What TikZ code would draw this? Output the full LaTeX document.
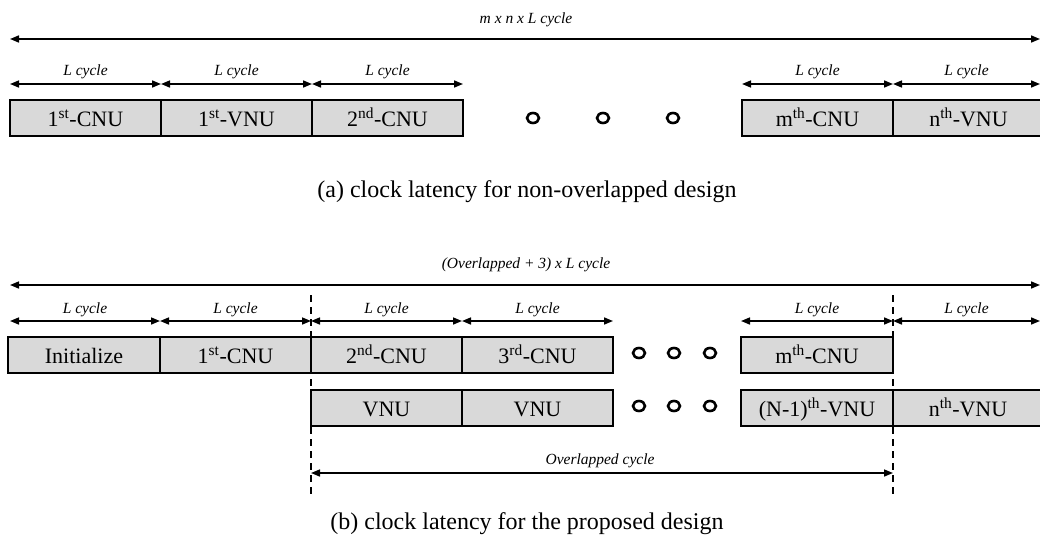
\documentclass[tikz,border=0pt]{standalone}
\usepackage{fontspec}
\setmainfont{Liberation Serif}
\usetikzlibrary{arrows.meta}
\begin{document}
\begin{tikzpicture}[x=1pt,y=-1pt,
  blk/.style={draw, line width=2.4pt, fill=black!15, minimum height=36pt, inner sep=0pt, text height=18pt, text depth=2pt, font=\fontsize{22}{26}\selectfont},
  dim/.style={line width=1.6pt, {Triangle[length=9pt,width=7pt]}-{Triangle[length=9pt,width=7pt]}},
  lab/.style={font=\fontsize{15.5}{18}\selectfont\itshape, inner sep=0pt},
  captxt/.style={font=\fontsize{24}{28}\selectfont, inner sep=0pt},
  dots/.style={line width=2.6pt},
  vdash/.style={line width=2pt, dash pattern=on 7pt off 5pt}
]
\useasboundingbox[fill=white] (0,0) rectangle (1040,538);

% ---------------- (a) ----------------
\node[lab] (ta) at (526,20) {m x n x L cycle};
\coordinate (A0) at (10,39);
\coordinate (A1) at (1040,39);
\draw[dim] (A0) -- (A1);

\coordinate (a0) at (10,84);
\coordinate (a1) at (161,84);
\coordinate (a2) at (312,84);
\coordinate (a3) at (463,84);
\coordinate (a4) at (742,84);
\coordinate (a5) at (893,84);
\coordinate (a6) at (1040,84);
\draw[dim] (a0) -- (a1);
\draw[dim] (a1) -- (a2);
\draw[dim] (a2) -- (a3);
\draw[dim] (a4) -- (a5);
\draw[dim] (a5) -- (a6);
\node[lab] (la1) at (85.5,72) {L cycle};
\node[lab] (la2) at (236.5,72) {L cycle};
\node[lab] (la3) at (387.5,72) {L cycle};
\node[lab] (la4) at (817.5,72) {L cycle};
\node[lab] (la5) at (966.5,72) {L cycle};

\node[blk, minimum width=151pt] (b1) at (85.5,118) {1\textsuperscript{st}-CNU};
\node[blk, minimum width=151pt] (b2) at (236.5,118) {1\textsuperscript{st}-VNU};
\node[blk, minimum width=151pt] (b3) at (387.5,118) {2\textsuperscript{nd}-CNU};
\node[blk, minimum width=151pt] (b4) at (817.5,118) {m\textsuperscript{th}-CNU};
\node[blk, minimum width=151pt] (b5) at (968.5,118) {n\textsuperscript{th}-VNU};

\draw[dots] (533,118) ellipse [x radius=6pt, y radius=5pt];
\draw[dots] (603,118) ellipse [x radius=6pt, y radius=5pt];
\draw[dots] (673,118) ellipse [x radius=6pt, y radius=5pt];

\node[captxt] (capa) at (527,192) {(a) clock latency for non-overlapped design};

% ---------------- (b) ----------------
\node[lab] (tb) at (526,265) {(Overlapped + 3) x L cycle};
\coordinate (B0) at (10,285);
\coordinate (B1) at (1040,285);
\draw[dim] (B0) -- (B1);

\coordinate (c0) at (10,321);
\coordinate (c1) at (160,321);
\coordinate (c2) at (311,321);
\coordinate (c3) at (462,321);
\coordinate (c4) at (613,321);
\coordinate (c5) at (741,321);
\coordinate (c6) at (893,321);
\coordinate (c7) at (1040,321);
\draw[dim] (c0) -- (c1);
\draw[dim] (c1) -- (c2);
\draw[dim] (c2) -- (c3);
\draw[dim] (c3) -- (c4);
\draw[dim] (c5) -- (c6);
\draw[dim] (c6) -- (c7);
\node[lab] (lb1) at (85,310) {L cycle};
\node[lab] (lb2) at (235.5,310) {L cycle};
\node[lab] (lb3) at (386.5,310) {L cycle};
\node[lab] (lb4) at (537.5,310) {L cycle};
\node[lab] (lb5) at (817,310) {L cycle};
\node[lab] (lb6) at (966.5,310) {L cycle};

\node[blk, minimum width=152pt] (r1) at (84,355) {Initialize};
\node[blk, minimum width=151pt] (r2) at (235.5,355) {1\textsuperscript{st}-CNU};
\node[blk, minimum width=151pt] (r3) at (386.5,355) {2\textsuperscript{nd}-CNU};
\node[blk, minimum width=151pt] (r4) at (537.5,355) {3\textsuperscript{rd}-CNU};
\node[blk, minimum width=152pt] (r5) at (817,355) {m\textsuperscript{th}-CNU};

\node[blk, minimum width=151pt] (s1) at (386.5,408) {VNU};
\node[blk, minimum width=151pt] (s2) at (537.5,408) {VNU};
\node[blk, minimum width=152pt] (s3) at (817,408) {(N-1)\textsuperscript{th}-VNU};
\node[blk, minimum width=150pt] (s4) at (968,408) {n\textsuperscript{th}-VNU};

\foreach \cx in {639,674,710}{
  \draw[dots] (\cx,353) ellipse [x radius=6pt, y radius=5pt];
  \draw[dots] (\cx,406) ellipse [x radius=6pt, y radius=5pt];
}

\coordinate (d1t) at (311,295);
\coordinate (d1b) at (311,497);
\coordinate (d2t) at (893,295);
\coordinate (d2b) at (893,497);
\draw[vdash] (d1t) -- (d1b);
\draw[vdash] (d2t) -- (d2b);

\coordinate (o0) at (311,473);
\coordinate (o1) at (893,473);
\draw[dim] (o0) -- (o1);
\node[lab] (lo) at (600,461) {Overlapped cycle};

\node[captxt] (capb) at (527,524) {(b) clock latency for the proposed design};
\end{tikzpicture}
\end{document}
